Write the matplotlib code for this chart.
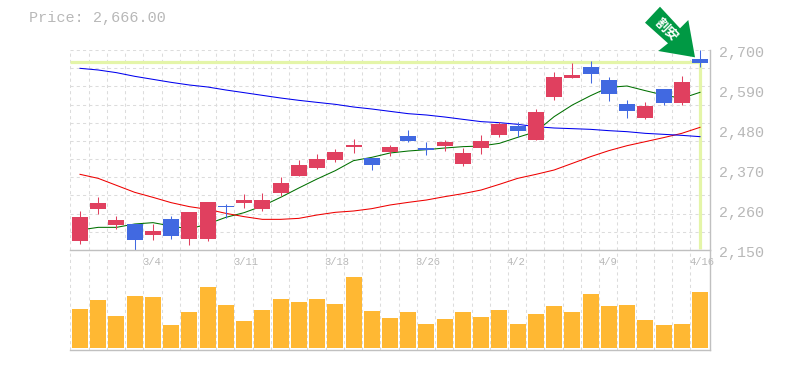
import matplotlib
matplotlib.use("Agg")
import matplotlib.pyplot as plt
from matplotlib.patches import Polygon, Rectangle
from matplotlib.transforms import IdentityTransform

W, H = 785, 370
title = "Price: 2,666.00"
last_price = 2666
highs = [2257,2296,2243.5,2221.5,2221.5,2243.5,2254.5,2282,2276.5,2304,2306.75,2350.75,2397.5,2414,2427.75,2455,2403,
         2438.75,2480,2447,2452.5,2430.5,2466,2502,2502,2537.75,2639.5,2664,2669.75,2625.75,2562.5,2557,2592.75,2628.5,2700]
tops = [2241,2279,2232.5,2221.5,2202,2235,2254.5,2282,2272,2287.5,2287.5,2334,2383.75,2400,2419.5,2438.75,2403,
        2433,2463.5,2430.5,2447,2416.75,2449.75,2496.5,2491,2529.5,2625.75,2631.25,2653,2617.5,2551.5,2546,2592.75,2612,2675]
bottoms = [2175,2263,2218.8,2177.5,2191,2188.5,2180,2180,2269,2279,2263,2306.75,2353.5,2375.5,2397.5,2433,2383.75,
           2419.5,2449.75,2425,2436,2386.5,2430.5,2466,2477.25,2452.5,2570.75,2623,2634,2579,2532.25,2513,2554.25,2554.25,2664]
lows = [2166,2249,2207.75,2150,2177.5,2180,2163.75,2174.75,2238,2265.5,2257,2298.5,2353.5,2372.75,2392,2416.75,2370,
        2408.5,2447,2411,2422,2381,2414,2460.75,2460.75,2452.5,2562.5,2623,2609.25,2559.75,2513,2510.25,2548.75,2548.75,2653]
is_down = [0,0,0,1,0,1,0,0,1,0,0,0,0,0,0,0,1,0,1,1,0,0,0,0,1,0,0,0,1,1,1,0,1,0,1]
ma_short = [2205,2212.3,2212.3,2221.5,2225.2,2216,2207.8,2221.5,2239.8,2252.7,2271,2294.8,2320.5,2345.3,2368.2,2395.7,2404.8,
            2416.75,2422.2,2425.9,2430.5,2434.2,2436,2443.3,2459.8,2475.4,2516.7,2548.75,2574.4,2597.3,2601,2588.2,2576.25,2567,2583.6]
ma_mid = [2358.1,2347,2327.8,2308.6,2294.8,2280.2,2269.2,2261.8,2250.8,2241.7,2234.3,2234.3,2237,2246.25,2253.6,2257.25,2263.7,
          2273.75,2281,2287.5,2296.7,2305,2315,2330.6,2347,2358,2370,2388.3,2406.7,2423.2,2436.9,2447.9,2459,2470.8,2487.3]
ma_long = [2649.6,2645,2637.7,2627.6,2619.3,2611,2603.75,2598.25,2590,2582.7,2575.3,2568,2561.6,2556,2550.6,2543.25,2537.75,
           2531.3,2524.9,2521.25,2515.75,2509.3,2503,2500.2,2495.6,2489.2,2485.5,2483.7,2481.8,2478.2,2475.4,2470.8,2468.1,2465.3,2461.7]
volume = [39,48,32,52,51,23,36,61,43,27,38,49,46,49,44,71,37,
          30,36,24,29,36,31,38,24,34,42,36,54,42,43,28,23,24,56]
date_idx = [4,9,14,19,24,29,34]
date_labels = ["3/4","3/11","3/18","3/26","4/2","4/9","4/16"]
price_ticks = [2150,2260,2370,2480,2590,2700]
price_labels = ["2,150","2,260","2,370","2,480","2,590","2,700"]
price_grid = list(range(2150,2701,50))

GRAY = "#b8b8b8"
AXIS = "#c0c0c0"
GRID = "#dcdcdc"
RED = "#e0405f"
BLUE = "#4169e1"
CROSS = "#e4f5a8"
MONO = ["Liberation Mono", "DejaVu Sans Mono"]
THIN = 0.75

fig = plt.figure(figsize=(W/100, H/100), dpi=100, facecolor="white")
L, R = 70, 710
ax = fig.add_axes([L/W, 1-250/H, (R-L)/W, 200/H])
av = fig.add_axes([L/W, 1-350/H, (R-L)/W, 100/H], sharex=ax)
n = len(highs)
xs = list(range(n))
step = 18.235
xlim = (-10/step, 34 + 10/step)
ax.set_xlim(xlim)
ax.set_ylim(2150, 2700)
av.set_ylim(-2, 98)
for a in (ax, av):
    a.set_facecolor("none")
    a.tick_params(left=False, bottom=False, labelleft=False, labelbottom=False)
    for s in a.spines.values():
        s.set_visible(False)
    for i in range(n):
        a.axvline(i-0.53, color=GRID, lw=THIN, dashes=(3, 3), zorder=0)
    a.plot([1, 1], [0, 1], transform=a.transAxes, color=AXIS, lw=1.0, clip_on=False, zorder=6)
    a.plot([0, 1], [0, 0], transform=a.transAxes, color=AXIS, lw=1.0, clip_on=False, zorder=6)
for p in price_grid:
    ax.axhline(p, color=GRID, lw=THIN, dashes=(3, 3), zorder=0)

# crosshair at the last price / last session
ax.plot([xlim[0], xs[-1]], [last_price, last_price], color=CROSS, lw=2.3, zorder=1, solid_capstyle="butt")
ax.plot([xs[-1], xs[-1]], [last_price, 2152], color=CROSS, lw=2.3, zorder=1, solid_capstyle="butt")

ax.plot(xs, ma_short, color="#007000", lw=THIN, zorder=2)
ax.plot(xs, ma_mid, color="#ee0000", lw=THIN, zorder=2)
ax.plot(xs, ma_long, color="#0000ee", lw=THIN, zorder=2)

bw = 16/step
for i in xs:
    c = BLUE if is_down[i] else RED
    ax.plot([i, i], [lows[i], highs[i]], color=c, lw=THIN, zorder=3, solid_capstyle="butt", clip_on=False)
    ax.add_patch(Rectangle((i-bw/2, bottoms[i]), bw, tops[i]-bottoms[i], facecolor=c, edgecolor="none", zorder=4, clip_on=False))

av.bar(xs, volume, width=bw, color="#ffb833", zorder=3)

for i, lab in zip(date_idx, date_labels):
    ax.annotate(lab, xy=(i-0.53, 0), xycoords=("data", "axes fraction"), xytext=(-1, -12), textcoords="offset pixels",
                family=MONO, fontsize=7.6, color=GRAY, ha="left", va="center", zorder=7)
for p, lab in zip(price_ticks, price_labels):
    ax.annotate(lab, xy=(1, p), xycoords=("axes fraction", "data"), xytext=(9, -3), textcoords="offset pixels",
                family=MONO, fontsize=10.8, color=GRAY, ha="left", va="center", annotation_clip=False)
fig.text(29/W, 1-18/H, title, family=MONO, fontsize=10.9, color=GRAY, ha="left", va="center")

# green signal arrow
arrow_px = [(660,6.7),(645,22.7),(668,43.3),(658.3,51),(695,57.3),(688.3,20),(680,28.3)]
fig.add_artist(Polygon([(x, H-y) for x, y in arrow_px], closed=True, facecolor="#009944", edgecolor="none",
                       transform=IdentityTransform(), zorder=8))
fig.text(666.5/W, 1-30/H, "割安", family=["Noto Sans CJK JP", "DejaVu Sans"], fontsize=9.5, weight="bold", color="white",
         rotation=-45, ha="center", va="center", rotation_mode="anchor", zorder=9)

fig.savefig("out.png", dpi=100)
